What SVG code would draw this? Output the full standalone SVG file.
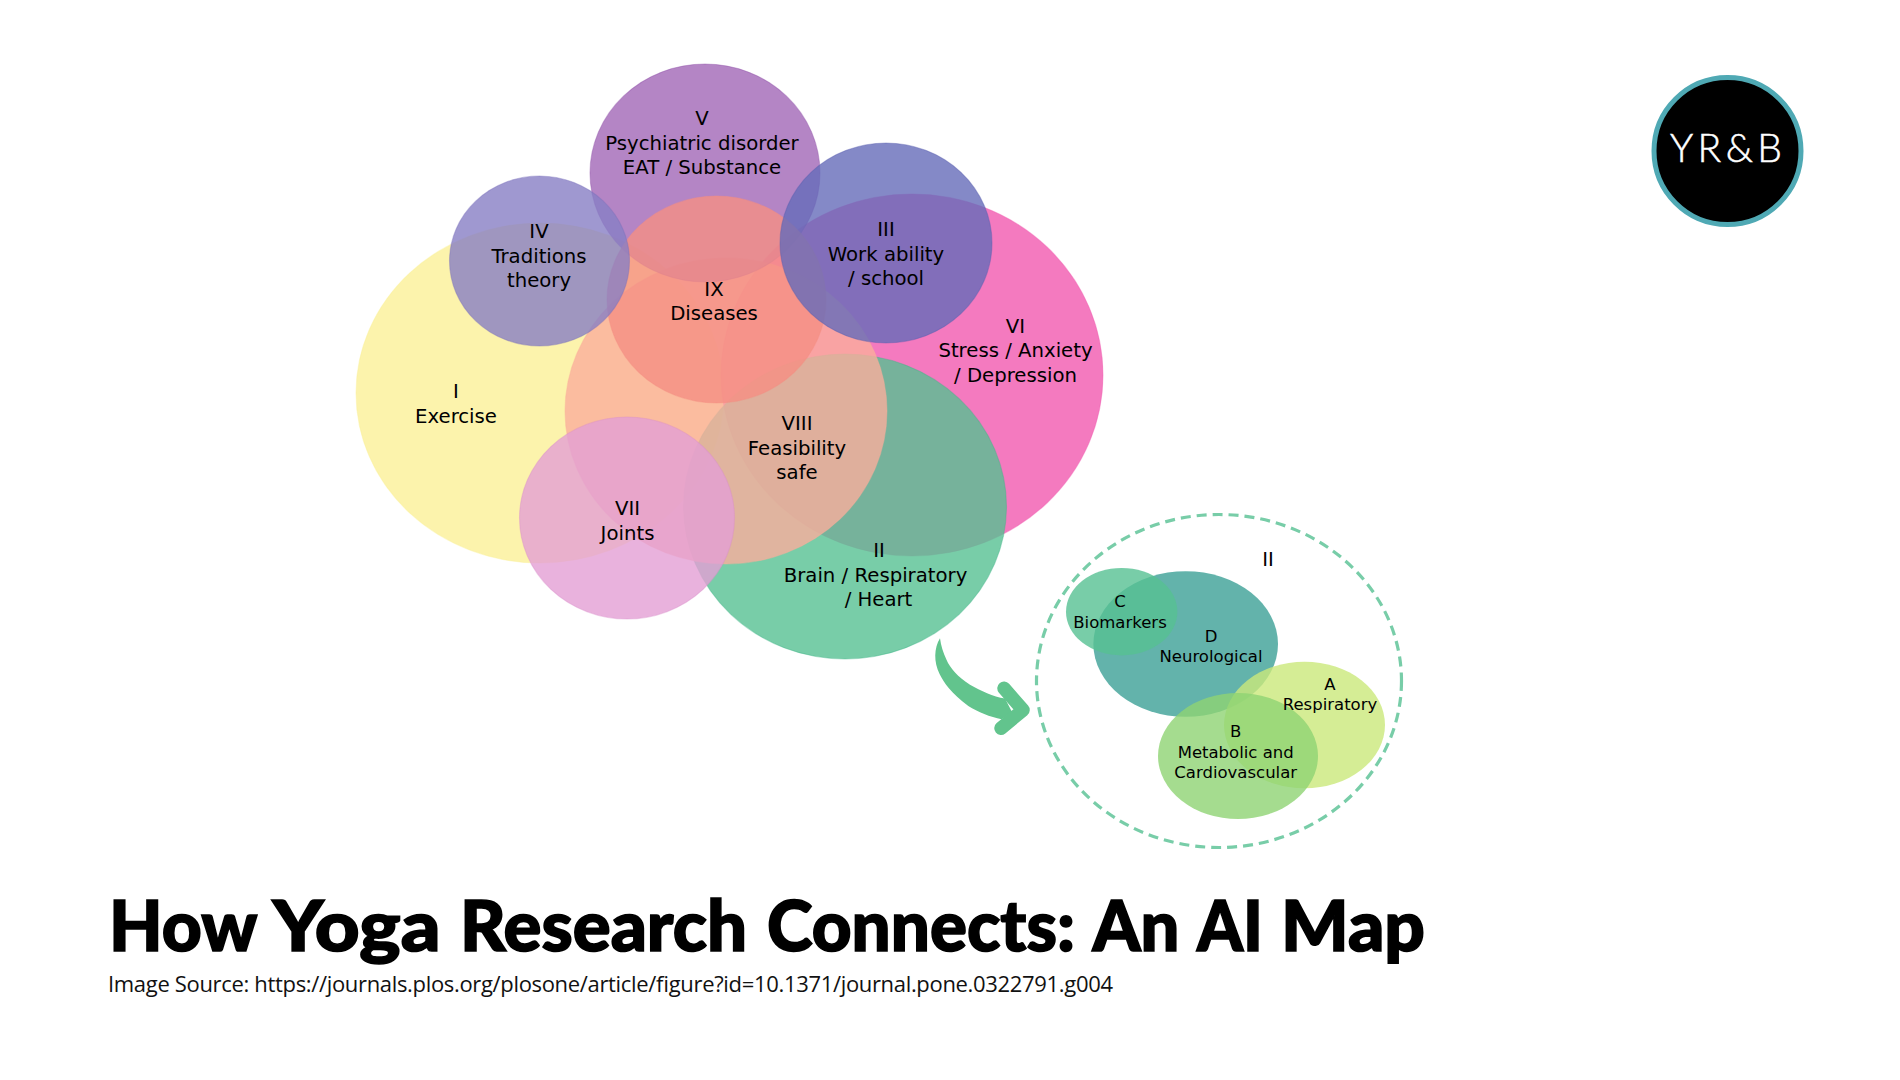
<svg xmlns="http://www.w3.org/2000/svg" width="1900" height="1080" viewBox="0 0 1900 1080">
<style>
text{font-family:"DejaVu Sans",sans-serif;fill:#000;text-anchor:middle}
.l{font-size:19.7px}
.s{font-size:16.5px}
ellipse{fill-opacity:.8;stroke-width:1.1;stroke-opacity:.4}
.title{font-family:"Lato","Liberation Sans",sans-serif;font-weight:900;font-size:70px;text-anchor:start;stroke:#000;stroke-width:1.6}
.src{font-family:"Open Sans",sans-serif;font-size:22px;text-anchor:start;fill:#111}
</style>
<rect width="1900" height="1080" fill="#fff"/>
<g id="node-I"><ellipse cx="540" cy="393" rx="184" ry="170" fill="#FBF097" stroke="#FBF097"/></g>
<g id="node-VI"><ellipse cx="912" cy="375" rx="191" ry="181" fill="#F159AF" stroke="#F159AF"/></g>
<g id="node-II"><ellipse cx="845" cy="506.5" rx="161.5" ry="152.5" fill="#56C092" stroke="#3FB386"/></g>
<g id="node-VIII"><ellipse cx="726" cy="411" rx="161" ry="153" fill="#FAAE9C" stroke="#FAAE9C"/></g>
<g id="node-VII"><ellipse cx="627" cy="518" rx="107.5" ry="101" fill="#E49FD5" stroke="#D98FCB"/></g>
<g id="node-V"><ellipse cx="705" cy="173" rx="115" ry="109" fill="#A166B7" stroke="#8E4FA8"/></g>
<g id="node-IX"><ellipse cx="716.5" cy="299.5" rx="109.5" ry="103.5" fill="#F58E83" stroke="#F58E83"/></g>
<g id="node-IV"><ellipse cx="539.5" cy="261" rx="90" ry="85" fill="#877EC4" stroke="#7A70BC"/></g>
<g id="node-III"><ellipse cx="886" cy="243" rx="106" ry="100" fill="#656BB9" stroke="#5A60B0"/></g>
<g id="labels-main" transform="translate(0 .3)">
<text class="l"><tspan x="702" y="125">V</tspan><tspan x="702" y="149.5">Psychiatric disorder</tspan><tspan x="702" y="174">EAT / Substance</tspan></text>
<text class="l"><tspan x="539" y="238">IV</tspan><tspan x="539" y="263">Traditions</tspan><tspan x="539" y="287">theory</tspan></text>
<text class="l"><tspan x="886" y="236">III</tspan><tspan x="886" y="260.5">Work ability</tspan><tspan x="886" y="285">/ school</tspan></text>
<text class="l"><tspan x="714" y="295.5">IX</tspan><tspan x="714" y="320">Diseases</tspan></text>
<text class="l"><tspan x="1015.5" y="332.5">VI</tspan><tspan x="1015.5" y="357">Stress / Anxiety</tspan><tspan x="1015.5" y="381.5">/ Depression</tspan></text>
<text class="l"><tspan x="456" y="398">I</tspan><tspan x="456" y="423">Exercise</tspan></text>
<text class="l"><tspan x="797" y="430">VIII</tspan><tspan x="797" y="455">Feasibility</tspan><tspan x="797" y="479">safe</tspan></text>
<text class="l"><tspan x="627.5" y="515">VII</tspan><tspan x="627.5" y="540">Joints</tspan></text>
<text class="l"><tspan x="879" y="557">II</tspan><tspan x="875.5" y="581.5">Brain / Respiratory</tspan><tspan x="878.5" y="606">/ Heart</tspan></text>
</g>
<g id="connectors">
<path d="M940 638.3C934 648 933.5 662 939.7 674.3C944 683 951 693 968.3 706C978 712 990 717 1001.7 719.3L1012 712L1005 698.5C993 696.5 981 691 970 684.7C958 677 950 668 946.5 659.7C943 652 941 646 940 638.3Z" fill="#62C48D"/>
<polyline points="1004,688.3 1023,710 1001,728.3" fill="none" stroke="#62C48D" stroke-width="13.5" stroke-linecap="round" stroke-linejoin="round"/>
</g>
<g id="node-II-detail"><ellipse cx="1219" cy="681" rx="182.5" ry="166.5" stroke="#78CDA8" style="fill:none;stroke-width:3.2;stroke-opacity:1" stroke-dasharray="10 6"/><text x="1268" y="566.3" class="l">II</text></g>
<g id="node-D"><ellipse cx="1185.7" cy="644" rx="92.3" ry="72.8" fill="#3CA096" stroke="none"/></g>
<g id="node-C"><ellipse cx="1121.7" cy="611.7" rx="55.7" ry="43.7" fill="#56C092" stroke="none"/></g>
<g id="node-A"><ellipse cx="1304.5" cy="725" rx="80.5" ry="63.3" fill="#CAE87A" stroke="none"/></g>
<g id="node-B"><ellipse cx="1238" cy="756" rx="80" ry="63" fill="#8ED373" stroke="none"/></g>
<g id="labels-detail">
<text class="s"><tspan x="1120" y="607.3">C</tspan><tspan x="1120" y="627.7">Biomarkers</tspan></text>
<text class="s"><tspan x="1211" y="641.7">D</tspan><tspan x="1211" y="662.3">Neurological</tspan></text>
<text class="s"><tspan x="1330" y="690">A</tspan><tspan x="1330" y="710.3">Respiratory</tspan></text>
<text class="s"><tspan x="1235.7" y="737">B</tspan><tspan x="1235.7" y="757.7">Metabolic and</tspan><tspan x="1235.7" y="778.3">Cardiovascular</tspan></text>
</g>
<g id="logo"><circle cx="1727.5" cy="151" r="73.5" fill="#000" stroke="#4FA9B4" stroke-width="5"/><text x="1670" y="161.7" textLength="112" style="font-family:Lato,sans-serif;font-weight:300;font-size:39px;fill:#fff;stroke:#fff;stroke-width:.5;text-anchor:start">YR&amp;B</text></g>
<text class="title" y="950.7"><tspan x="109" textLength="147" lengthAdjust="spacingAndGlyphs">How</tspan> <tspan x="272.5" textLength="168" lengthAdjust="spacingAndGlyphs">Yoga</tspan> <tspan x="460" textLength="287" lengthAdjust="spacingAndGlyphs">Research</tspan> <tspan x="767" textLength="308" lengthAdjust="spacingAndGlyphs">Connects:</tspan> <tspan x="1092.5" textLength="87" lengthAdjust="spacingAndGlyphs">An</tspan> <tspan x="1197" textLength="66" lengthAdjust="spacingAndGlyphs">AI</tspan> <tspan x="1281" textLength="144" lengthAdjust="spacingAndGlyphs">Map</tspan></text>
<text class="src" x="108" y="992.2" textLength="1005">Image Source: https://journals.plos.org/plosone/article/figure?id=10.1371/journal.pone.0322791.g004</text>
</svg>
